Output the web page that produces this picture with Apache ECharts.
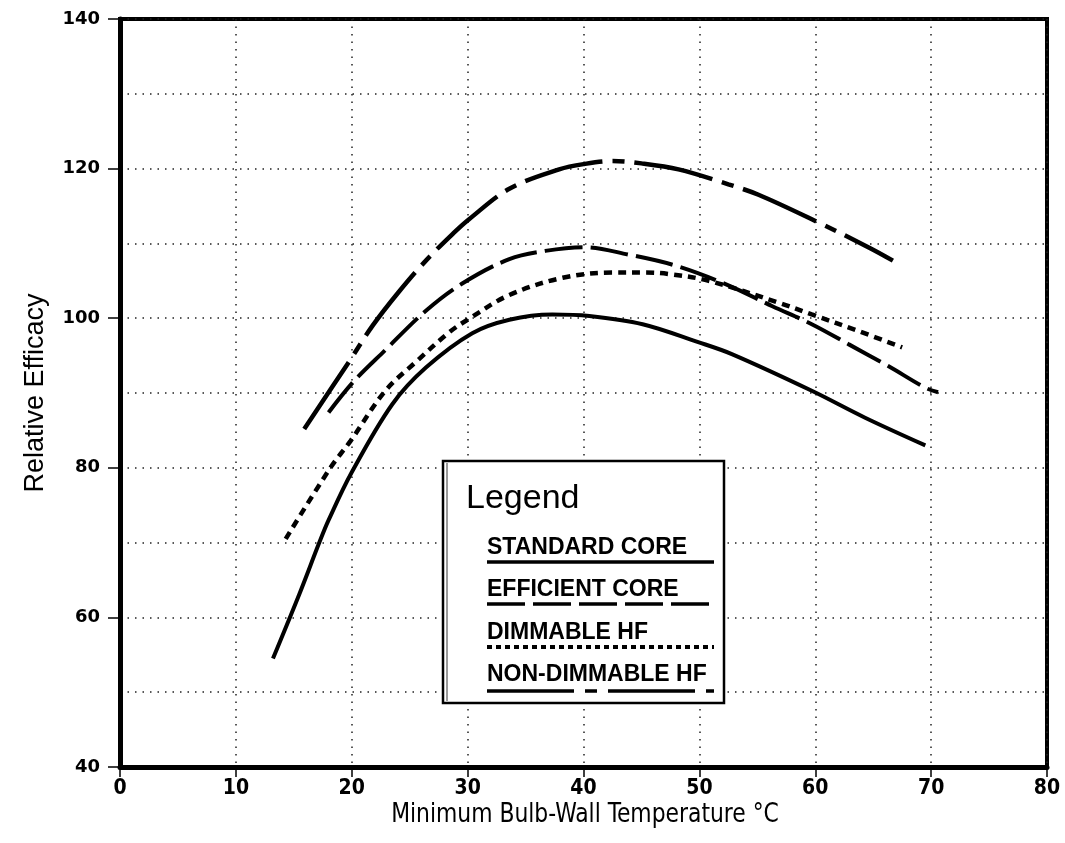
<!DOCTYPE html>
<html>
<head>
<meta charset="utf-8">
<script src="https://cdn.jsdelivr.net/npm/echarts@6/dist/echarts.min.js"></script>
<style>
html,body{margin:0;padding:0;background:#fff;}
#chart{width:1065px;height:843px;}
</style>
</head>
<body>
<div id="chart"></div>
<script>
// ---- data ----
const xTicks = [0, 10, 20, 30, 40, 50, 60, 70, 80];
const yTicks = [40, 60, 80, 100, 120, 140];

const standardX = [13.2, 15.5, 17.2, 18.0, 20.0, 23.5, 26.4, 30.4, 33.6, 37.3, 40.5, 45.1, 49.9, 52.8, 59.7, 64.3, 69.5];
const standardY = [54.5, 63.2, 70.0, 73.0, 79.4, 88.5, 93.4, 98.0, 99.8, 100.5, 100.3, 99.2, 96.8, 95.2, 90.3, 86.7, 83.0];

const efficientX = [18.0, 20.2, 22.8, 26.4, 29.5, 33.6, 36.7, 40.0, 43.9, 48.0, 52.5, 56.3, 59.7, 62.9, 66.3, 69.5, 70.6];
const efficientY = [87.4, 91.6, 95.6, 101.0, 104.6, 107.9, 109.0, 109.5, 108.5, 107.0, 104.4, 101.6, 99.2, 96.5, 93.6, 90.7, 90.1];

const dimmableX = [14.3, 18.2, 19.9, 22.9, 25.5, 28.4, 30.1, 33.6, 38.2, 42.5, 45.3, 47.4, 50.8, 56.8, 59.7, 63.7, 67.5];
const dimmableY = [70.5, 80.1, 83.6, 90.3, 94.1, 98.1, 99.9, 103.1, 105.4, 106.1, 106.1, 105.9, 105.0, 102.1, 100.5, 98.3, 96.1];

const nonDimX = [15.9, 19.9, 21.8, 24.0, 26.4, 28.8, 30.1, 33.6, 37.9, 40.0, 42.5, 45.0, 48.2, 52.5, 55.1, 60.0, 64.7, 66.7];
const nonDimY = [85.2, 94.5, 99.0, 103.4, 107.7, 111.4, 113.2, 117.3, 119.9, 120.6, 121.0, 120.7, 119.9, 117.9, 116.5, 113.0, 109.4, 107.7];

const seriesNames = ['STANDARD CORE', 'EFFICIENT CORE', 'DIMMABLE HF', 'NON-DIMMABLE HF'];
const xTitle = 'Minimum Bulb-Wall Temperature °C';
const yTitle = 'Relative Efficacy';
const legendTitle = 'Legend';

// ---- styles ----
const dashes = {
  'STANDARD CORE': 'solid',
  'EFFICIENT CORE': [38, 8],
  'DIMMABLE HF': [8, 6],
  'NON-DIMMABLE HF': [80, 10, 12, 10]
};
const widths = {'STANDARD CORE': 4, 'EFFICIENT CORE': 4, 'DIMMABLE HF': 4.5, 'NON-DIMMABLE HF': 4.5};
const legendDashes = {
  'STANDARD CORE': null,
  'EFFICIENT CORE': [38, 8],
  'DIMMABLE HF': [5, 4],
  'NON-DIMMABLE HF': [87, 11, 12, 11]
};

const narrow = '"Liberation Sans Narrow", "DejaVu Sans Condensed", "Arial Narrow", sans-serif';

function zip(xs, ys) { return xs.map((x, i) => [x, ys[i]]); }
const seriesData = [zip(standardX, standardY), zip(efficientX, efficientY), zip(dimmableX, dimmableY), zip(nonDimX, nonDimY)];

const chart = echarts.init(document.getElementById('chart'), null, {renderer: 'canvas'});

const gridSplit = {show: true, lineStyle: {color: '#222', width: 1.5, type: [1.5, 6]}};

// legend graphic (box, texts and sample lines)
const lg = {x: 443, y: 461, w: 281, h: 242};
const rowText = [548, 590, 633, 675];
const rowLine = [562, 604, 647, 691];
const graphics = [
  {type: 'rect', shape: {x: lg.x, y: lg.y, width: lg.w, height: lg.h}, style: {fill: '#fff', stroke: '#000', lineWidth: 2.5}, z: 100},
  {type: 'line', shape: {x1: lg.x + 4, y1: lg.y + 2, x2: lg.x + 4, y2: lg.y + lg.h - 2}, style: {stroke: '#555', lineWidth: 1.2}, z: 101},
  {type: 'text', x: 466, y: 499, style: {text: legendTitle, fill: '#000', font: '34px "Liberation Sans", Arial, sans-serif', textVerticalAlign: 'middle'}, z: 101},
  {type: 'text', x: 585, y: 815, scaleX: 0.9, style: {text: xTitle, fill: '#000', font: '500 27px ' + narrow, textAlign: 'center', textVerticalAlign: 'middle'}, z: 101}
];
seriesNames.forEach((n, i) => {
  graphics.push({type: 'text', x: 487, y: rowText[i], style: {text: n, fill: '#000', font: 'bold 23px "Liberation Sans", Arial, sans-serif', textVerticalAlign: 'middle'}, z: 101});
  const st = {stroke: '#000', lineWidth: n === 'DIMMABLE HF' ? 4 : 3.5};
  if (legendDashes[n]) st.lineDash = legendDashes[n];
  graphics.push({type: 'line', shape: {x1: 487, y1: rowLine[i], x2: 714, y2: rowLine[i]}, style: st, z: 101});
});

const option = {
  animation: false,
  backgroundColor: '#fff',
  grid: {left: 120, right: 18, top: 19, bottom: 76, show: true, borderColor: '#000', borderWidth: 4, backgroundColor: 'transparent'},
  xAxis: {
    type: 'value', min: xTicks[0], max: xTicks[xTicks.length - 1], interval: 10,
    axisLine: {show: true, lineStyle: {color: '#000', width: 5}},
    axisTick: {show: true, inside: false, length: 10, lineStyle: {color: '#000', width: 1.5}},
    axisLabel: {color: '#000', fontSize: 21, fontWeight: 'bold', fontFamily: narrow, margin: 11},
    splitLine: gridSplit
  },
  yAxis: {
    type: 'value', min: yTicks[0], max: yTicks[yTicks.length - 1], interval: 20,
    axisLine: {show: true, lineStyle: {color: '#000', width: 5}},
    axisTick: {show: true, inside: false, length: 12, lineStyle: {color: '#000', width: 1.5}},
    minorTick: {show: false, splitNumber: 2},
    minorSplitLine: {show: true, lineStyle: {color: '#222', width: 1.5, type: [1.5, 6]}},
    axisLabel: {color: '#000', fontSize: 18, fontWeight: 'bold', fontFamily: '"DejaVu Sans", sans-serif', margin: 20},
    splitLine: gridSplit,
    name: yTitle, nameLocation: 'middle', nameGap: 71,
    nameTextStyle: {color: '#000', fontSize: 27, fontFamily: '"Liberation Sans", Arial, sans-serif'}
  },
  series: seriesNames.map((n, i) => ({
    name: n, type: 'line', data: seriesData[i], smooth: 0.35,
    showSymbol: false, symbol: 'none',
    lineStyle: {color: '#000', width: widths[n], type: dashes[n], cap: 'butt'},
    z: 5
  })),
  graphic: graphics
};
chart.setOption(option);
</script>
</body>
</html>
